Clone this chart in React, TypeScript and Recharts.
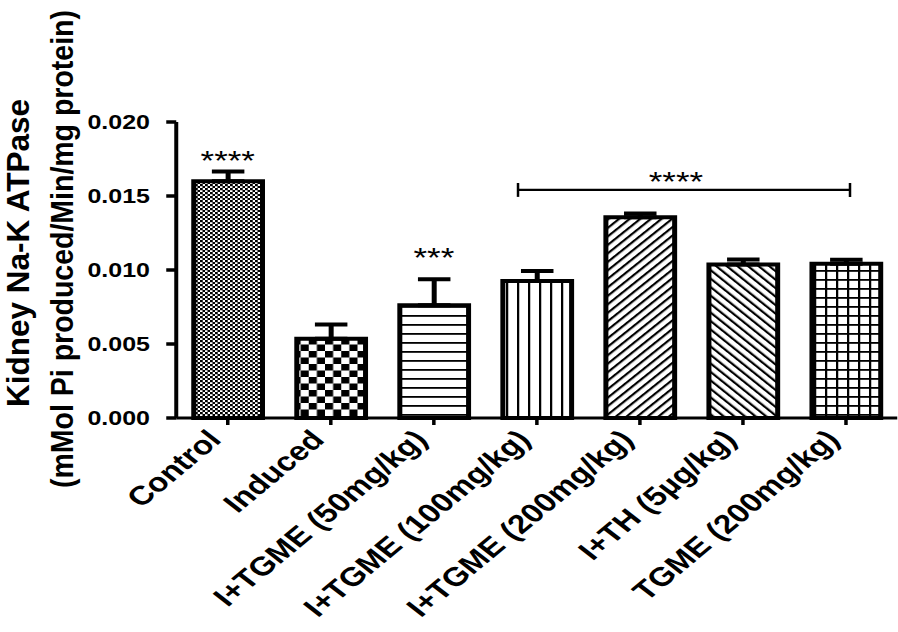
import { BarChart, Bar, XAxis, YAxis, Cell, ErrorBar, ReferenceLine, ReferenceDot } from "recharts"

const groups = [
  "Control",
  "Induced",
  "I+TGME (50mg/kg)",
  "I+TGME (100mg/kg)",
  "I+TGME (200mg/kg)",
  "I+TH (5µg/kg)",
  "TGME (200mg/kg)",
]
const means = [0.016, 0.00536, 0.00762, 0.00926, 0.01357, 0.01038, 0.01043]
const sems = [0.00066, 0.00096, 0.00176, 0.00068, 0.00025, 0.00033, 0.00026]
const yTicks = [0, 0.005, 0.01, 0.015, 0.02]
const patterns = ["pCheckFine", "pCheckBig", "pHoriz", "pVert", "pDiagUp", "pDiagDown", "pGrid"]

// significance marks
const starGroups = ["Control", "I+TGME (50mg/kg)"]
const starText = ["****", "***"]
const starY = [0.01673, 0.01017]
const bracketFrom = 3.317
const bracketTo = 6.539
const bracketY = 0.01541
const bracketStarX = 4.85
const bracketStarY = 0.01531

const data = groups.map((g, i) => ({ group: g, idx: i, mean: means[i], err: [0, sems[i]] }))

const FONT = "'Liberation Sans', Arial, Helvetica, sans-serif"

function CatTick({ x, y, payload }: any) {
  return (
    <g transform={`translate(${x - 4},${y + 16})`}>
      <text transform="rotate(-46)" textAnchor="end" fontFamily={FONT} fontWeight="bold" fontSize={26.5} fill="#000">
        {payload.value}
      </text>
    </g>
  )
}

function Stars(text: string) {
  return (props: any) => (
    <text x={props.cx} y={props.cy} textAnchor="middle" fontFamily={FONT} fontSize={28} fill="#000">
      {text}
    </text>
  )
}

export default function App() {
  return (
    <div
      style={{
        position: "absolute",
        left: 0,
        top: 0,
        width: 718,
        height: 632,
        background: "#fff",
        transform: "scaleX(1.25)",
        transformOrigin: "0 0",
      }}
    >
      <BarChart width={718} height={632} data={data} margin={{ top: 122, right: 0, bottom: 0, left: 0 }} barCategoryGap={0}>
        <defs>
          <pattern id="pCheckFine" patternUnits="userSpaceOnUse" width={4} height={4}>
            <rect width={4} height={4} fill="#fff" />
            <rect x={0} y={0} width={2.2} height={2.2} fill="#000" />
            <rect x={2} y={2} width={2.2} height={2.2} fill="#000" />
          </pattern>
          <pattern id="pCheckBig" patternUnits="userSpaceOnUse" width={13} height={13}>
            <rect width={13} height={13} fill="#fff" />
            <rect x={0} y={0} width={6.5} height={6.5} fill="#000" />
            <rect x={6.5} y={6.5} width={6.5} height={6.5} fill="#000" />
          </pattern>
          <pattern id="pHoriz" patternUnits="userSpaceOnUse" width={9} height={9}>
            <rect width={9} height={9} fill="#fff" />
            <rect x={0} y={0} width={9} height={1.8} fill="#000" />
          </pattern>
          <pattern id="pVert" patternUnits="userSpaceOnUse" width={8.8} height={8.8}>
            <rect width={8.8} height={8.8} fill="#fff" />
            <rect x={0} y={0} width={1.8} height={8.8} fill="#000" />
          </pattern>
          <pattern id="pDiagUp" patternUnits="userSpaceOnUse" width={6} height={6} patternTransform="rotate(45)">
            <rect width={6} height={6} fill="#fff" />
            <rect x={0} y={0} width={2} height={6} fill="#000" />
          </pattern>
          <pattern id="pDiagDown" patternUnits="userSpaceOnUse" width={6} height={6} patternTransform="rotate(-45)">
            <rect width={6} height={6} fill="#fff" />
            <rect x={0} y={0} width={2} height={6} fill="#000" />
          </pattern>
          <pattern id="pGrid" patternUnits="userSpaceOnUse" width={8.8} height={9}>
            <rect width={8.8} height={9} fill="#fff" />
            <rect x={0} y={0} width={1.8} height={9} fill="#000" />
            <rect x={0} y={0} width={8.8} height={1.8} fill="#000" />
          </pattern>
        </defs>

        <text transform="translate(23 253) rotate(-90) scale(1.26 1)" textAnchor="middle" fontFamily={FONT} fontWeight="bold" fontSize={25} fill="#000">
          Kidney Na-K ATPase
        </text>
        <text transform="translate(58.5 249) rotate(-90) scale(1.14 1)" textAnchor="middle" fontFamily={FONT} fontWeight="bold" fontSize={25} fill="#000">
          (mMol Pi produced/Min/mg protein)
        </text>

        <XAxis
          dataKey="group"
          interval={0}
          height={214}
          tick={<CatTick />}
          tickSize={7}
          tickMargin={0}
          axisLine={{ stroke: "#000", strokeWidth: 3 }}
          tickLine={{ stroke: "#000", strokeWidth: 2.8 }}
        />
        <XAxis xAxisId="n" dataKey="idx" type="number" domain={[0, 7]} allowDataOverflow hide />
        <YAxis
          width={141}
          domain={[0, 0.02]}
          ticks={yTicks}
          interval={0}
          tickFormatter={(v: number) => v.toFixed(3)}
          tickSize={8}
          tickMargin={13}
          axisLine={{ stroke: "#000", strokeWidth: 3.2 }}
          tickLine={{ stroke: "#000", strokeWidth: 3.5 }}
          tick={{ fill: "#000", fontFamily: FONT, fontWeight: "bold", fontSize: 20 }}
        />

        <Bar dataKey="mean" barSize={55} stroke="#000" strokeWidth={4} isAnimationActive={false}>
          {data.map((d, i) => (
            <Cell key={d.group} fill={`url(#${patterns[i]})`} />
          ))}
          <ErrorBar dataKey="err" width={13} stroke="#000" strokeWidth={4} direction="y" />
        </Bar>

        <ReferenceLine
          xAxisId="n"
          segment={[{ x: bracketFrom, y: bracketY }, { x: bracketTo, y: bracketY }]}
          stroke="#000"
          strokeWidth={2.2}
        />
        <ReferenceLine
          xAxisId="n"
          segment={[{ x: bracketFrom, y: bracketY - 0.00047 }, { x: bracketFrom, y: bracketY + 0.00047 }]}
          stroke="#000"
          strokeWidth={2}
        />
        <ReferenceLine
          xAxisId="n"
          segment={[{ x: bracketTo, y: bracketY - 0.00047 }, { x: bracketTo, y: bracketY + 0.00047 }]}
          stroke="#000"
          strokeWidth={2}
        />
        <ReferenceDot xAxisId="n" x={bracketStarX} y={bracketStarY} r={0} shape={Stars("****")} />
        {starGroups.map((g, i) => (
          <ReferenceDot key={g} x={g} y={starY[i]} r={0} shape={Stars(starText[i])} />
        ))}
      </BarChart>
    </div>
  )
}
